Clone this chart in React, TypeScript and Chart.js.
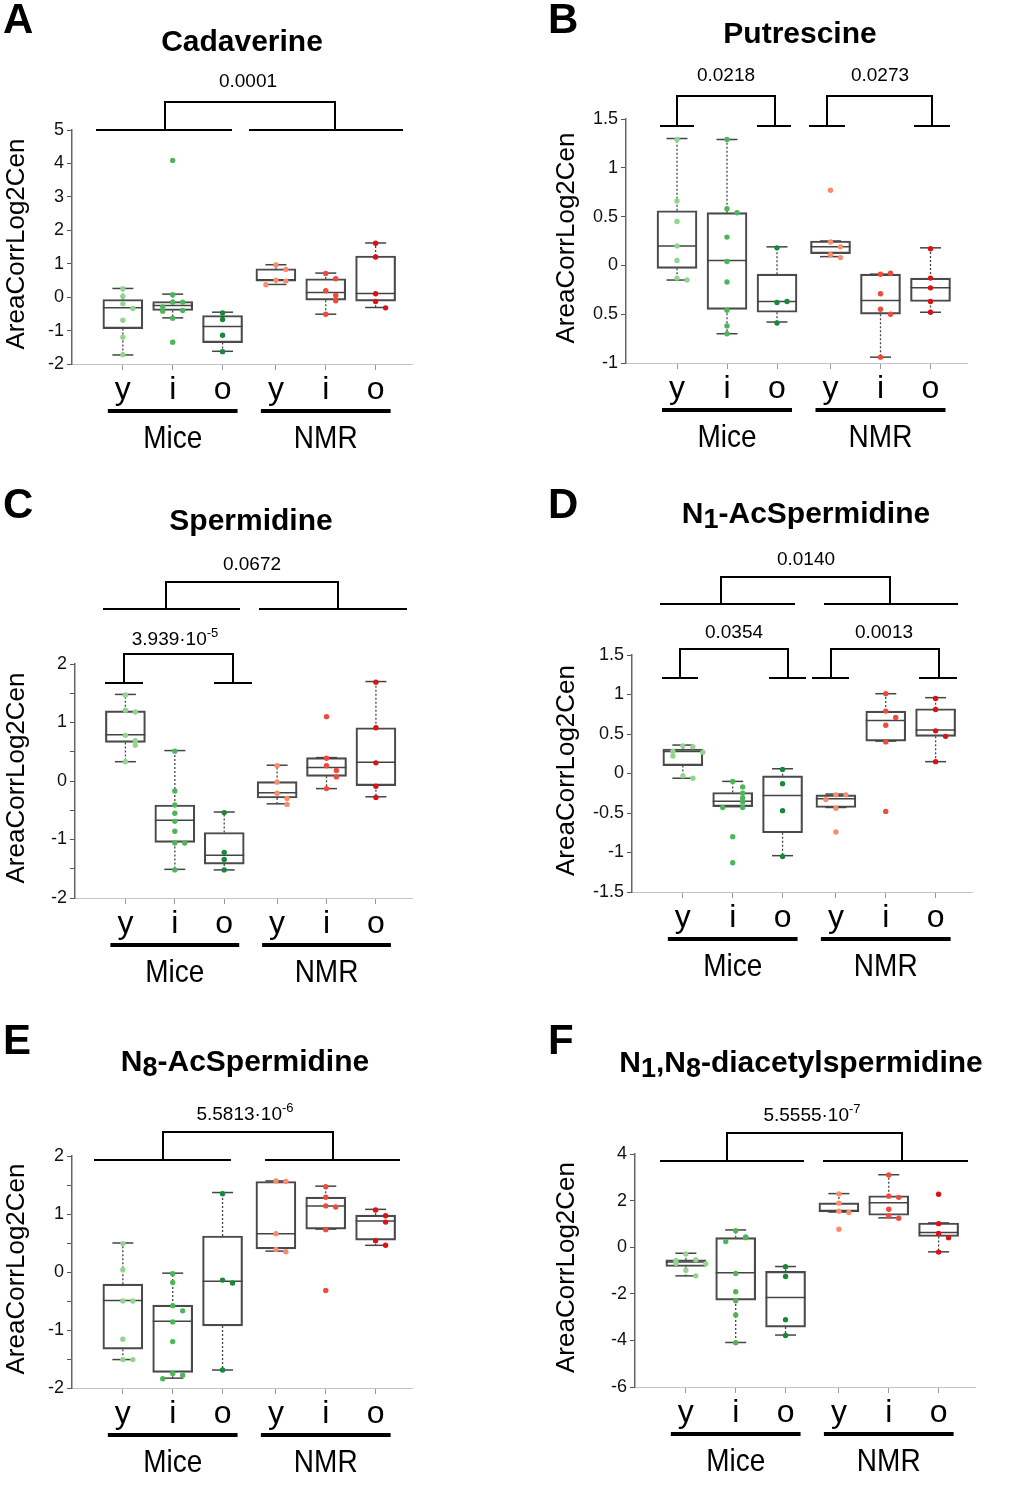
import React, { useEffect, useRef } from 'react';
import { Chart, registerables } from 'chart.js';

Chart.register(...registerables);

const FONT = '"Liberation Sans", Arial, Helvetica, sans-serif';
const PAGE_W = 1020;
const PAGE_H = 1510;

// ---------- shared categories ----------
const X_LABELS = ['y', 'i', 'o', 'y', 'i', 'o'];
const X_POS = [1, 2, 3, 4.07, 5.07, 6.07];
const SPECIES = ['Mice', 'NMR'];
const POINT_COLORS = ['#92d68e', '#4fb55c', '#178a3a', '#fc8c6c', '#ef4a3b', '#dc1219'];
const Y_TITLE = 'AreaCorrLog2Cen';

// ---------- A: Cadaverine ----------
const cadTitle = [['Cadaverine', '']];
const cadPValues = ['0.0001'];
const cadYTicks = [-2, -1, 0, 1, 2, 3, 4, 5];
const cadYTickLabels = ['-2', '-1', '0', '1', '2', '3', '4', '5'];
const cadWhiskerLow = [-1.73, -0.62, -1.62, 0.38, -0.51, -0.31];
const cadQ1 = [-0.94, -0.40, -1.36, 0.48, -0.09, -0.12];
const cadMedian = [-0.32, -0.25, -0.88, 0.52, 0.14, 0.11];
const cadQ3 = [-0.07, -0.13, -0.55, 0.85, 0.55, 1.23];
const cadWhiskerHigh = [0.26, 0.09, -0.45, 0.97, 0.72, 1.62];
const cadPoints = [
  [0.25, 0.03, -0.2, -0.34, -0.69, -1.2, -1.72],
  [4.09, 0.07, -0.15, -0.15, -0.29, -0.4, -0.42, -0.63, -1.35],
  [-0.47, -0.67, -1.14, -1.63],
  [0.96, 0.83, 0.51, 0.48, 0.37],
  [0.71, 0.55, 0.19, 0.05, -0.11, -0.51],
  [1.61, 1.2, 0.1, -0.13, -0.32],
];

// ---------- B: Putrescine ----------
const putTitle = [['Putrescine', '']];
const putPValues = ['0.0218', '0.0273'];
const putYTicks = [-1, -0.5, 0, 0.5, 1, 1.5];
const putYTickLabels = ['-1', '0.5', '0', '0.5', '1', '1.5'];
const putWhiskerLow = [-0.15, -0.70, -0.58, 0.09, -0.94, -0.48];
const putQ1 = [-0.03, -0.45, -0.48, 0.12, -0.50, -0.37];
const putMedian = [0.20, 0.05, -0.37, 0.19, -0.36, -0.23];
const putQ3 = [0.56, 0.54, -0.09, 0.25, -0.09, -0.13];
const putWhiskerHigh = [1.30, 1.29, 0.19, 0.25, -0.09, 0.18];
const putPoints = [
  [1.29, 0.66, 0.45, 0.2, 0.05, -0.13, -0.15],
  [1.29, 0.58, 0.54, 0.29, 0.04, -0.17, -0.46, -0.62, -0.70],
  [0.18, -0.38, -0.37, -0.59],
  [0.77, 0.24, 0.19, 0.11, 0.08],
  [-0.09, -0.08, -0.29, -0.45, -0.5, -0.94],
  [0.17, -0.13, -0.23, -0.37, -0.48],
];

// ---------- C: Spermidine ----------
const speTitle = [['Spermidine', '']];
const spePValues = ['0.0672', '3.939·10^-5'];
const speYTicks = [-2, -1.5, -1, -0.5, 0, 0.5, 1, 1.5, 2];
const speYTickLabels = ['-2', '', '-1', '', '0', '', '1', '', '2'];
const speWhiskerLow = [0.33, -1.51, -1.52, -0.39, -0.13, -0.27];
const speQ1 = [0.66, -1.05, -1.42, -0.29, 0.08, -0.08];
const speMedian = [0.79, -0.67, -1.27, -0.20, 0.23, 0.32];
const speQ3 = [1.20, -0.41, -0.88, -0.01, 0.40, 0.91];
const speWhiskerHigh = [1.48, 0.52, -0.53, 0.27, 0.40, 1.70];
const spePoints = [
  [1.47, 1.21, 1.18, 0.78, 0.69, 0.61, 0.33],
  [0.51, -0.17, -0.41, -0.55, -0.69, -0.86, -1.06, -1.06, -1.52],
  [-0.54, -1.22, -1.34, -1.52],
  [0.26, -0.02, -0.21, -0.30, -0.40],
  [1.1, 0.39, 0.26, 0.18, 0.07, -0.13],
  [1.69, 0.91, 0.31, -0.09, -0.28],
];

// ---------- D: N1-AcSpermidine ----------
const n1Title = [['N', ''], ['1', 'sub'], ['-AcSpermidine', '']];
const n1PValues = ['0.0140', '0.0354', '0.0013'];
const n1YTicks = [-1.5, -1, -0.5, 0, 0.5, 1, 1.5];
const n1YTickLabels = ['-1.5', '-1', '-0.5', '0', '0.5', '1', '1.5'];
const n1WhiskerLow = [-0.06, -0.42, -1.04, -0.43, 0.41, 0.15];
const n1Q1 = [0.10, -0.42, -0.75, -0.43, 0.41, 0.47];
const n1Median = [0.28, -0.35, -0.28, -0.32, 0.67, 0.55];
const n1Q3 = [0.31, -0.24, -0.03, -0.27, 0.79, 0.82];
const n1WhiskerHigh = [0.36, -0.10, 0.06, -0.26, 1.01, 0.96];
const n1Points = [
  [0.35, 0.34, 0.28, 0.27, 0.22, -0.03, -0.06],
  [-0.10, -0.17, -0.25, -0.31, -0.36, -0.43, -0.43, -0.80, -1.13],
  [0.05, -0.13, -0.47, -1.05],
  [-0.27, -0.27, -0.33, -0.44, -0.74],
  [1.01, 0.79, 0.71, 0.61, 0.40, -0.48],
  [0.95, 0.81, 0.54, 0.47, 0.15],
];

// ---------- E: N8-AcSpermidine ----------
const n8Title = [['N', ''], ['8', 'sub'], ['-AcSpermidine', '']];
const n8PValues = ['5.5813·10^-6'];
const n8YTicks = [-2, -1.5, -1, -0.5, 0, 0.5, 1, 1.5, 2];
const n8YTickLabels = ['-2', '', '-1', '', '0', '', '1', '', '2'];
const n8WhiskerLow = [-1.51, -1.83, -1.69, 0.36, 0.74, 0.46];
const n8Q1 = [-1.33, -1.73, -0.93, 0.40, 0.74, 0.55];
const n8Median = [-0.49, -0.85, -0.16, 0.66, 1.14, 0.88];
const n8Q3 = [-0.21, -0.57, 0.62, 1.56, 1.29, 0.98];
const n8WhiskerHigh = [0.50, -0.02, 1.37, 1.57, 1.48, 1.08];
const n8Points = [
  [0.49, 0.04, -0.5, -0.5, -1.16, -1.51, -1.51],
  [-0.03, -0.18, -0.58, -0.67, -0.86, -1.2, -1.75, -1.78, -1.84],
  [1.35, -0.14, -0.19, -1.69],
  [1.57, 1.56, 0.66, 0.39, 0.35],
  [1.47, 1.29, 1.14, 1.12, 0.73, -0.32],
  [1.07, 0.97, 0.86, 0.54, 0.46],
];

// ---------- F: N1,N8-diacetylspermidine ----------
const diTitle = [['N', ''], ['1', 'sub'], [',N', ''], ['8', 'sub'], ['-diacetylspermidine', '']];
const diPValues = ['5.5555·10^-7'];
const diYTicks = [-6, -4, -2, 0, 2, 4];
const diYTickLabels = ['-6', '-4', '-2', '0', '2', '4'];
const diWhiskerLow = [-1.23, -4.09, -3.77, 1.51, 1.26, -0.20];
const diQ1 = [-0.83, -2.27, -3.43, 1.51, 1.37, 0.46];
const diMedian = [-0.64, -1.10, -2.16, 1.57, 1.91, 0.63];
const diQ3 = [-0.54, 0.41, -1.04, 1.90, 2.21, 1.04];
const diWhiskerHigh = [-0.26, 0.74, -0.83, 2.30, 3.11, 1.04];
const diPoints = [
  [-0.29, -0.54, -0.57, -0.69, -0.71, -0.99, -1.23],
  [0.71, 0.44, 0.41, 0.24, -1.13, -1.91, -2.3, -2.91, -4.1],
  [-0.84, -1.26, -3.11, -3.79],
  [2.29, 1.89, 1.54, 1.49, 0.77],
  [3.1, 2.19, 2.14, 1.63, 1.34, 1.24],
  [2.27, 1.01, 0.59, 0.41, -0.21],
];

// ---------- layout (page pixels) ----------
type Bracket = { lx: number; ly: number; top: number; bottom: number; x1: number; x2: number; feet: number[][] };

const PANELS = [
  {
    letter: 'A', letterPos: [3, 33], titleParts: cadTitle, titlePos: [242, 51],
    area: { l: 72, t: 130, r: 412, b: 364 }, yRange: [-2, 5], yTicks: cadYTicks, yTickLabels: cadYTickLabels,
    wl: cadWhiskerLow, q1: cadQ1, med: cadMedian, q3: cadQ3, wh: cadWhiskerHigh, pts: cadPoints,
    pValues: cadPValues, yTitleX: 17,
    brackets: [{ lx: 248, ly: 87, top: 102, bottom: 130, x1: 165, x2: 335, feet: [[96, 232], [249, 403]] }] as Bracket[],
  },
  {
    letter: 'B', letterPos: [548, 33], titleParts: putTitle, titlePos: [800, 43],
    area: { l: 626, t: 119, r: 967, b: 363 }, yRange: [-1, 1.5], yTicks: putYTicks, yTickLabels: putYTickLabels,
    wl: putWhiskerLow, q1: putQ1, med: putMedian, q3: putQ3, wh: putWhiskerHigh, pts: putPoints,
    pValues: putPValues, yTitleX: 567,
    brackets: [
      { lx: 726, ly: 81, top: 96, bottom: 126, x1: 677, x2: 775, feet: [[660, 694], [757, 791]] },
      { lx: 880, ly: 81, top: 96, bottom: 126, x1: 827, x2: 932, feet: [[809, 845], [914, 950]] },
    ] as Bracket[],
  },
  {
    letter: 'C', letterPos: [3, 518], titleParts: speTitle, titlePos: [251, 530],
    area: { l: 75, t: 664, r: 412, b: 898 }, yRange: [-2, 2], yTicks: speYTicks, yTickLabels: speYTickLabels,
    wl: speWhiskerLow, q1: speQ1, med: speMedian, q3: speQ3, wh: speWhiskerHigh, pts: spePoints,
    pValues: spePValues, yTitleX: 17,
    brackets: [
      { lx: 252, ly: 570, top: 582, bottom: 609, x1: 166, x2: 338, feet: [[103, 240], [259, 407]] },
      { lx: 175, ly: 645, top: 654, bottom: 683, x1: 124, x2: 233, feet: [[105, 143], [214, 252]] },
    ] as Bracket[],
  },
  {
    letter: 'D', letterPos: [548, 518], titleParts: n1Title, titlePos: [806, 523],
    area: { l: 632, t: 655, r: 972, b: 892 }, yRange: [-1.5, 1.5], yTicks: n1YTicks, yTickLabels: n1YTickLabels,
    wl: n1WhiskerLow, q1: n1Q1, med: n1Median, q3: n1Q3, wh: n1WhiskerHigh, pts: n1Points,
    pValues: n1PValues, yTitleX: 567,
    brackets: [
      { lx: 806, ly: 565, top: 577, bottom: 604, x1: 721, x2: 890, feet: [[660, 795], [824, 958]] },
      { lx: 734, ly: 638, top: 649, bottom: 678, x1: 680, x2: 788, feet: [[662, 698], [769, 806]] },
      { lx: 884, ly: 638, top: 649, bottom: 678, x1: 831, x2: 939, feet: [[812, 849], [919, 957]] },
    ] as Bracket[],
  },
  {
    letter: 'E', letterPos: [3, 1054], titleParts: n8Title, titlePos: [245, 1071],
    area: { l: 72, t: 1156, r: 412, b: 1388 }, yRange: [-2, 2], yTicks: n8YTicks, yTickLabels: n8YTickLabels,
    wl: n8WhiskerLow, q1: n8Q1, med: n8Median, q3: n8Q3, wh: n8WhiskerHigh, pts: n8Points,
    pValues: n8PValues, yTitleX: 17,
    brackets: [{ lx: 245, ly: 1120, top: 1132, bottom: 1160, x1: 163, x2: 333, feet: [[94, 231], [265, 400]] }] as Bracket[],
  },
  {
    letter: 'F', letterPos: [548, 1054], titleParts: diTitle, titlePos: [801, 1072],
    area: { l: 635, t: 1154, r: 975, b: 1387 }, yRange: [-6, 4], yTicks: diYTicks, yTickLabels: diYTickLabels,
    wl: diWhiskerLow, q1: diQ1, med: diMedian, q3: diQ3, wh: diWhiskerHigh, pts: diPoints,
    pValues: diPValues, yTitleX: 567,
    brackets: [{ lx: 812, ly: 1121, top: 1133, bottom: 1161, x1: 727, x2: 902, feet: [[660, 804], [823, 968]] }] as Bracket[],
  },
];

type PanelDef = typeof PANELS[number];

const Y_AXIS_W = 50;
const X_AXIS_H = 50;

function jitterOffsets(vals: number[], tol: number): number[] {
  return vals.map((v, j) => {
    let n = 0;
    for (let k = 0; k < j; k++) if (Math.abs(vals[k] - v) < tol) n++;
    if (n === 0) return 0;
    return (n % 2 === 1 ? 1 : -1) * Math.ceil(n / 2) * 0.2;
  });
}

function drawRich(ctx: CanvasRenderingContext2D, parts: string[][], cx: number, y: number, size: number, bold: boolean) {
  const w = bold ? 'bold ' : '';
  const fontFor = (kind: string) => `${w}${kind ? Math.round(size * 0.9) : size}px ${FONT}`;
  let total = 0;
  for (const [t, kind] of parts) {
    ctx.font = fontFor(kind);
    total += ctx.measureText(t).width;
  }
  let x = cx - total / 2;
  ctx.textAlign = 'left';
  ctx.textBaseline = 'alphabetic';
  for (const [t, kind] of parts) {
    ctx.font = fontFor(kind);
    ctx.fillText(t, x, kind === 'sub' ? y + 5 : y);
    x += ctx.measureText(t).width;
  }
}

function drawPValue(ctx: CanvasRenderingContext2D, label: string, cx: number, y: number) {
  const [base, exp] = label.split('^');
  const size = 19;
  ctx.textBaseline = 'alphabetic';
  ctx.textAlign = 'left';
  ctx.font = `${size}px ${FONT}`;
  const wb = ctx.measureText(base).width;
  let we = 0;
  if (exp) {
    ctx.font = `${Math.round(size * 0.68)}px ${FONT}`;
    we = ctx.measureText(exp).width;
  }
  const x0 = cx - (wb + we) / 2;
  ctx.font = `${size}px ${FONT}`;
  ctx.fillText(base, x0, y);
  if (exp) {
    ctx.font = `${Math.round(size * 0.68)}px ${FONT}`;
    ctx.fillText(exp, x0 + wb, y - 8);
  }
}

function buildConfig(p: PanelDef): any {
  const [yMin, yMax] = p.yRange;
  const tol = (yMax - yMin) * 0.028;
  const datasets: any[] = [];

  p.pts.forEach((arr, g) => {
    const off = jitterOffsets(arr, tol);
    datasets.push({
      type: 'scatter',
      data: arr.map((v, j) => ({ x: X_POS[g] + off[j], y: v })),
      pointRadius: 2.7,
      pointBackgroundColor: POINT_COLORS[g],
      pointBorderWidth: 0,
      order: 0,
    });
  });

  datasets.push({
    type: 'scatter',
    data: X_POS.map((x, g) => ({ x, y: p.med[g] })),
    pointStyle: 'line',
    pointRadius: 20,
    pointBorderColor: '#444',
    pointBorderWidth: 1.5,
    order: 1,
  });

  datasets.push({
    type: 'scatter',
    data: X_POS.flatMap((x, g) => [{ x, y: p.wl[g] }, { x, y: p.wh[g] }]),
    pointStyle: 'line',
    pointRadius: 10.5,
    pointBorderColor: '#444',
    pointBorderWidth: 1.5,
    order: 1,
  });

  datasets.push({
    type: 'line',
    data: X_POS.flatMap((x, g) => [
      { x, y: p.q3[g] }, { x, y: p.wh[g] }, { x, y: null },
      { x, y: p.q1[g] }, { x, y: p.wl[g] }, { x, y: null },
    ]),
    borderColor: '#444',
    borderWidth: 1.3,
    borderDash: [2, 2],
    pointRadius: 0,
    spanGaps: false,
    tension: 0,
    order: 2,
  });

  datasets.push({
    type: 'bar',
    data: X_POS.map((x, g) => ({ x, y: [p.q1[g], p.q3[g]] })),
    barThickness: 40,
    borderColor: '#4a4a4a',
    borderWidth: 1.5,
    borderSkipped: false,
    backgroundColor: 'rgba(255,255,255,0)',
    order: 3,
  });

  const decor = {
    id: 'decor',
    afterDraw(chart: any) {
      const ctx: CanvasRenderingContext2D = chart.ctx;
      const xs = chart.scales.x;
      const area = chart.chartArea;
      ctx.save();
      ctx.fillStyle = '#000';
      ctx.strokeStyle = '#000';

      // panel letter
      ctx.font = `bold 42px ${FONT}`;
      ctx.textAlign = 'left';
      ctx.textBaseline = 'alphabetic';
      ctx.fillText(p.letter, p.letterPos[0], p.letterPos[1]);

      // title
      drawRich(ctx, p.titleParts, p.titlePos[0], p.titlePos[1], 30, true);

      // significance brackets
      p.brackets.forEach((b, i) => {
        ctx.lineWidth = 2;
        ctx.beginPath();
        ctx.moveTo(b.x1, b.bottom);
        ctx.lineTo(b.x1, b.top);
        ctx.lineTo(b.x2, b.top);
        ctx.lineTo(b.x2, b.bottom);
        ctx.stroke();
        b.feet.forEach(([a, c]) => {
          ctx.beginPath();
          ctx.moveTo(a, b.bottom);
          ctx.lineTo(c, b.bottom);
          ctx.stroke();
        });
        drawPValue(ctx, p.pValues[i], b.lx, b.ly);
      });

      // y axis title
      ctx.save();
      ctx.translate(p.yTitleX, (area.top + area.bottom) / 2 - 3);
      ctx.rotate(-Math.PI / 2);
      ctx.font = `26px ${FONT}`;
      ctx.textAlign = 'center';
      ctx.textBaseline = 'middle';
      ctx.fillText(Y_TITLE, 0, 0);
      ctx.restore();

      // group underlines and labels
      SPECIES.forEach((name, s) => {
        const a = xs.getPixelForValue(X_POS[s * 3]) - 15;
        const c = xs.getPixelForValue(X_POS[s * 3 + 2]) + 15;
        ctx.lineWidth = 4;
        ctx.beginPath();
        ctx.moveTo(a, area.bottom + 47);
        ctx.lineTo(c, area.bottom + 47);
        ctx.stroke();
        ctx.save();
        ctx.translate((a + c) / 2, area.bottom + 84);
        ctx.scale(1, 1.15);
        ctx.font = `28px ${FONT}`;
        ctx.textAlign = 'center';
        ctx.textBaseline = 'alphabetic';
        ctx.fillText(name, 0, 0);
        ctx.restore();
      });
      ctx.restore();
    },
  };

  return {
    type: 'scatter',
    data: { datasets },
    plugins: [decor],
    options: {
      responsive: false,
      animation: false,
      events: [],
      layout: {
        padding: {
          left: p.area.l - Y_AXIS_W,
          top: p.area.t,
          right: PAGE_W - p.area.r,
          bottom: PAGE_H - p.area.b - X_AXIS_H,
        },
      },
      plugins: { legend: { display: false }, tooltip: { enabled: false }, title: { display: false } },
      scales: {
        x: {
          type: 'linear',
          min: -0.02,
          max: 6.8,
          offset: false,
          afterBuildTicks: (s: any) => { s.ticks = X_POS.map((v) => ({ value: v })); },
          afterFit: (s: any) => { s.height = X_AXIS_H; },
          grid: { drawOnChartArea: false, drawTicks: true, tickLength: 6, tickColor: '#999', offset: false },
          border: { color: '#c4c4c4', width: 1 },
          ticks: {
            autoSkip: false,
            maxRotation: 0,
            minRotation: 0,
            padding: 1,
            color: '#000',
            font: { family: FONT, size: 32 },
            callback: (_v: any, i: number) => X_LABELS[i],
          },
        },
        y: {
          type: 'linear',
          min: yMin,
          max: yMax,
          afterBuildTicks: (s: any) => { s.ticks = p.yTicks.map((v) => ({ value: v })); },
          afterFit: (s: any) => { s.width = Y_AXIS_W; },
          grid: { drawOnChartArea: false, drawTicks: true, tickLength: 5, tickColor: '#555' },
          border: { color: '#666', width: 1.5 },
          ticks: {
            autoSkip: false,
            padding: 3,
            color: '#111',
            font: { family: FONT, size: 18 },
            callback: (_v: any, i: number) => p.yTickLabels[i],
          },
        },
      },
    },
  };
}

function Panel({ def }: { def: PanelDef }) {
  const ref = useRef<HTMLCanvasElement | null>(null);
  useEffect(() => {
    if (!ref.current) return;
    const chart = new Chart(ref.current, buildConfig(def));
    return () => chart.destroy();
  }, [def]);
  return (
    <canvas
      ref={ref}
      width={PAGE_W}
      height={PAGE_H}
      style={{ position: 'absolute', left: 0, top: 0, width: PAGE_W, height: PAGE_H }}
    />
  );
}

export default function App() {
  return (
    <div style={{ position: 'absolute', left: 0, top: 0, width: PAGE_W, height: PAGE_H, background: '#fff', overflow: 'hidden' }}>
      {PANELS.map((p) => (
        <Panel key={p.letter} def={p} />
      ))}
    </div>
  );
}
